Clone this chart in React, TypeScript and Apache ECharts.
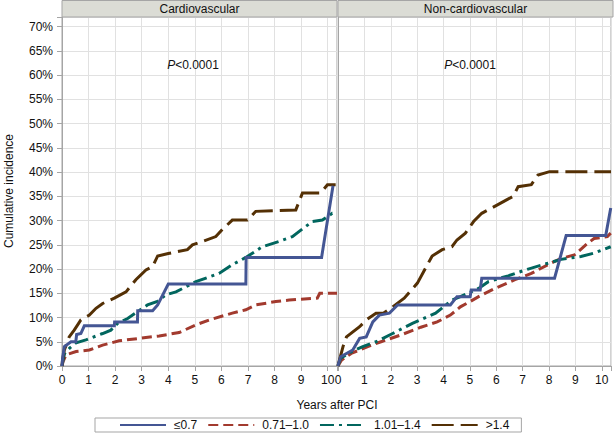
import React, { useEffect, useRef } from "react";
import * as echarts from "echarts";

const FONT = '"Liberation Sans", Arial, Helvetica, sans-serif';

// Panel titles
const panels = ["Cardiovascular", "Non-cardiovascular"];

// Groups
const groupNames = ["≤0.7", "0.71–1.0", "1.01–1.4", ">1.4"];
const groupColors = ["#445694", "#A23A2E", "#01665E", "#543005"];
const groupDash: (number[] | "solid")[] = ["solid", [10, 5], [14, 5, 3, 5], [22, 7]];

// Cardiovascular panel: [years, cumulative incidence %]
const cvLow: number[][] = [
  [0, 0], [0.02, 1.5], [0.09, 4.0], [0.34, 5.0], [0.52, 5.0], [0.55, 6.5], [0.71, 6.7],
  [0.84, 8.3], [1.97, 8.3], [1.98, 9.1], [2.84, 9.1], [2.85, 11.4], [3.41, 11.4],
  [3.6, 12.6], [4.0, 16.9], [6.92, 16.9], [6.93, 22.4], [9.77, 22.4], [10.2, 37.2],
];
const cvMid1: number[][] = [
  [0, 0], [0.04, 0.9], [0.15, 2.3], [0.53, 3.0], [1.03, 3.3], [1.53, 4.3], [2.15, 5.2],
  [2.91, 5.7], [3.66, 6.2], [4.41, 6.9], [5.04, 8.5], [5.54, 9.5], [6.41, 10.9],
  [6.92, 11.6], [7.29, 12.6], [8.05, 13.3], [8.55, 13.6], [9.61, 14.0], [9.7, 15.0], [10.35, 15.0],
];
const cvMid2: number[][] = [
  [0, 0], [0.05, 1.5], [0.1, 2.6], [0.27, 3.6], [0.53, 4.8], [0.9, 5.4], [1.53, 6.7],
  [1.84, 7.4], [2.09, 8.8], [2.47, 9.8], [2.84, 11.2], [3.22, 12.6], [3.59, 13.3],
  [3.91, 14.7], [4.29, 15.3], [5.04, 17.4], [5.91, 19.1], [6.41, 20.9], [6.92, 22.4],
  [7.54, 24.6], [8.17, 25.7], [8.67, 26.7], [9.42, 29.8], [9.8, 30.1], [10.17, 31.5], [10.35, 31.5],
];
const cvHigh: number[][] = [
  [0, 0], [0.02, 1.2], [0.09, 3.3], [0.27, 6.0], [0.46, 7.4], [0.71, 9.5], [1.03, 10.5],
  [1.28, 11.9], [1.53, 12.9], [1.97, 14.0], [2.41, 15.3], [2.78, 17.8], [3.16, 19.8],
  [3.41, 20.5], [3.6, 22.7], [4.0, 23.2], [4.72, 24.0], [4.91, 25.0], [5.29, 25.7],
  [5.79, 26.7], [6.04, 28.2], [6.41, 30.1], [6.98, 30.1], [7.29, 31.9], [8.8, 32.2],
  [9.05, 35.7], [9.74, 35.7], [9.99, 37.4], [10.3, 37.4],
];

// Non-cardiovascular panel
const ncLow: number[][] = [
  [0, 0], [0.02, 0.5], [0.1, 1.9], [0.56, 3.3], [0.82, 5.7], [1.07, 6.0], [1.32, 9.1],
  [1.57, 10.5], [1.95, 10.9], [2.26, 12.6], [4.26, 12.6], [4.51, 14.3], [5.01, 14.3],
  [5.05, 15.7], [5.39, 15.7], [5.45, 18.1], [8.21, 18.1], [8.65, 26.9], [10.15, 26.9], [10.34, 32.6],
];
const ncMid1: number[][] = [
  [0, 0], [0.13, 1.2], [0.5, 2.6], [1.13, 4.0], [1.63, 5.0], [2.38, 6.4], [3.14, 8.0],
  [3.76, 9.1], [4.26, 10.5], [4.64, 12.2], [5.01, 13.3], [5.33, 14.3], [5.95, 16.0],
  [6.71, 17.8], [7.33, 19.1], [7.96, 20.9], [8.46, 22.2], [8.96, 22.9], [9.46, 25.3],
  [9.71, 26.3], [10.21, 26.7], [10.34, 27.4],
];
const ncMid2: number[][] = [
  [0, 0], [0.1, 1.6], [0.56, 3.1], [0.94, 4.0], [1.44, 5.0], [2.07, 6.7], [2.82, 8.8],
  [3.7, 10.9], [4.32, 13.6], [4.64, 14.3], [5.33, 16.0], [5.7, 17.4], [6.45, 18.6],
  [7.21, 20.0], [7.96, 21.2], [8.46, 22.0], [9.21, 22.6], [9.71, 23.3], [10.34, 24.6],
];
const ncHigh: number[][] = [
  [0, 0], [0.02, 0.5], [0.19, 4.0], [0.32, 6.0], [0.82, 8.1], [1.07, 9.5], [1.44, 10.9],
  [1.72, 10.9], [2.0, 11.9], [2.51, 14.0], [3.01, 17.1], [3.32, 20.2], [3.57, 22.7],
  [3.95, 24.0], [4.32, 24.6], [4.51, 26.0], [4.83, 27.4], [5.14, 29.8], [5.45, 31.5],
  [5.83, 32.6], [6.27, 33.9], [6.64, 35.0], [6.83, 37.0], [7.33, 37.4], [7.58, 39.4],
  [8.02, 40.1], [10.35, 40.1],
];

const panelData = [
  [cvLow, cvMid1, cvMid2, cvHigh],
  [ncLow, ncMid1, ncMid2, ncHigh],
];

const X_MAX = 10.35;
const Y_MAX = 72;

export default function App() {
  const ref = useRef<HTMLDivElement>(null);
  useEffect(() => {
    if (!ref.current) return;
    const chart = echarts.init(ref.current, null, { renderer: "svg" });
    const axisColor = "#A5A5A5";
    const gridColor = "#E1E1E1";
    const grids = [
      { left: 62, top: 17, width: 275, height: 349 },
      { left: 338, top: 17, width: 275, height: 349 },
    ].map((g) => ({ ...g, show: true, borderColor: axisColor, borderWidth: 1 }));

    const xAxes = [0, 1].map((i) => ({
      type: "value",
      gridIndex: i,
      min: 0,
      max: X_MAX,
      interval: 1,
      axisLine: { show: true, lineStyle: { color: axisColor } },
      axisTick: { show: true, length: 5, lineStyle: { color: axisColor } },
      axisLabel: {
        formatter: (v: number) => (Math.abs(v - Math.round(v)) < 1e-6 ? String(Math.round(v)) : ""),
        fontSize: 12,
        fontFamily: FONT,
        color: "#111",
        margin: 8,
      },
      splitLine: { show: true, lineStyle: { color: gridColor } },
    }));
    const yAxes = [0, 1].map((i) => ({
      type: "value",
      gridIndex: i,
      min: 0,
      max: Y_MAX,
      interval: 5,
      axisLine: { show: true, lineStyle: { color: axisColor } },
      axisTick: { show: i === 0, length: 5, lineStyle: { color: axisColor } },
      axisLabel: {
        show: i === 0,
        formatter: (v: number) => (v % 5 === 0 ? v + "%" : ""),
        fontSize: 12,
        fontFamily: FONT,
        color: "#111",
        margin: 9,
      },
      splitLine: { show: true, lineStyle: { color: gridColor } },
    }));

    const series: any[] = [];
    panelData.forEach((sets, p) => {
      sets.forEach((data, g) => {
        series.push({
          type: "line",
          name: groupNames[g],
          xAxisIndex: p,
          yAxisIndex: p,
          data,
          symbol: "none",
          color: groupColors[g],
          lineStyle: { color: groupColors[g], width: 3, type: groupDash[g], cap: "butt", join: "miter" },
          z: 3 + (g === 0 ? 1 : 0),
        });
      });
    });

    const graphic: any[] = [];
    grids.forEach((gr, i) => {
      graphic.push({
        type: "rect",
        shape: { x: gr.left, y: 0.5, width: gr.width, height: 16.5 },
        style: { fill: "#DBDCD5", stroke: axisColor, lineWidth: 1 },
        z: 10,
      });
      graphic.push({
        type: "text",
        x: gr.left + gr.width / 2,
        y: 9,
        style: { text: panels[i], fontSize: 12, fontFamily: FONT, fill: "#111", textAlign: "center", textVerticalAlign: "middle" },
        z: 11,
      });
      graphic.push({
        type: "text",
        x: gr.left + (i === 0 ? 131 : 132),
        y: 65,
        style: {
          text: "{i|P}{n|<0.0001}",
          textAlign: "center",
          textVerticalAlign: "middle",
          rich: {
            i: { fontSize: 12, fontFamily: FONT, fontStyle: "italic", fill: "#111" },
            n: { fontSize: 12, fontFamily: FONT, fill: "#111" },
          },
        },
        z: 11,
      });
    });
    graphic.push({
      type: "text",
      x: 9,
      y: 191,
      rotation: Math.PI / 2,
      style: { text: "Cumulative incidence", fontSize: 12, fontFamily: FONT, fill: "#111", textAlign: "center", textVerticalAlign: "middle" },
    });
    graphic.push({
      type: "text",
      x: 337,
      y: 405,
      style: { text: "Years after PCI", fontSize: 12, fontFamily: FONT, fill: "#111", textAlign: "center", textVerticalAlign: "middle" },
    });

    chart.setOption({
      animation: false,
      backgroundColor: "#fff",
      grid: grids,
      xAxis: xAxes,
      yAxis: yAxes,
      series,
      graphic,
      legend: {
        data: groupNames,
        left: 95,
        top: 418,
        orient: "horizontal",
        itemWidth: 46,
        itemHeight: 10,
        itemGap: 10,
        padding: [1, 12, 1, 24],
        borderColor: axisColor,
        borderWidth: 1,
        selectedMode: false,
        itemStyle: { opacity: 0 },
        textStyle: { fontSize: 12, fontFamily: FONT, color: "#111", padding: [0, 0, 0, 3] },
      },
    });
    return () => chart.dispose();
  }, []);
  return <div ref={ref} style={{ position: "fixed", left: 0, top: 0, width: 614, height: 435 }} />;
}
